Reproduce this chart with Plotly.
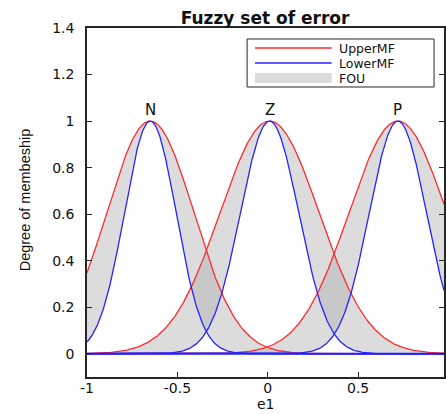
import numpy as np
import plotly.graph_objects as go

# Interval type-2 Gaussian membership functions for the error input e1
labels = ["N", "Z", "P"]
centers = [-0.65, 0.01, 0.72]
upper_sigma = [0.241, 0.274, 0.271]
lower_sigma = [0.143, 0.161, 0.158]

x_min, x_max = -1.0, 0.975
y_ticks = [0, 0.2, 0.4, 0.6, 0.8, 1, 1.2, 1.4]
x_ticks = [-1, -0.5, 0, 0.5]

x = np.linspace(x_min, x_max, 600)


def gauss(xv, c, s):
    return np.exp(-((xv - c) ** 2) / (2 * s ** 2))


RED = "#ff2a2a"
BLUE = "#2323ff"
FOU_FILL = "rgba(173,173,173,0.43)"
AXIS = "#262626"
TXT = "#111"

fig = go.Figure()

# footprint of uncertainty (overlapping regions darken)
for c, su, sl in zip(centers, upper_sigma, lower_sigma):
    up = gauss(x, c, su)
    lo = gauss(x, c, sl)
    fig.add_trace(go.Scatter(
        x=np.concatenate([x, x[::-1]]),
        y=np.concatenate([up, lo[::-1]]),
        fill="toself", fillcolor=FOU_FILL, line=dict(width=0),
        mode="lines", hoverinfo="skip", showlegend=False))

for c, su in zip(centers, upper_sigma):
    fig.add_trace(go.Scatter(x=x, y=gauss(x, c, su), mode="lines",
                             line=dict(color=RED, width=1.3), showlegend=False))
for c, sl in zip(centers, lower_sigma):
    fig.add_trace(go.Scatter(x=x, y=gauss(x, c, sl), mode="lines",
                             line=dict(color=BLUE, width=1.3), showlegend=False))

# baseline of the lower membership functions
fig.add_trace(go.Scatter(x=x, y=np.zeros_like(x), mode="lines",
                         line=dict(color=BLUE, width=2), showlegend=False))

# set names above each peak
for name, c in zip(labels, centers):
    fig.add_annotation(x=c, y=1.0, text=name, showarrow=False,
                       yanchor="bottom", yshift=0,
                       font=dict(family="DejaVu Sans", size=15, color=TXT))

# legend box drawn in pixel-aligned paper coordinates
W, H = 446, 414
ml, mr, mt, mb = 87, 0, 28, 37
pw, ph = W - ml - mr, H - mt - mb


def px(xp):
    return (xp - ml) / pw


def py(yp):
    return 1 - (yp - mt) / ph


fig.add_shape(type="rect", xref="paper", yref="paper",
              x0=px(248), x1=px(436), y0=py(87), y1=py(39),
              line=dict(color=AXIS, width=1), fillcolor="white", layer="above")
fig.add_shape(type="line", xref="paper", yref="paper",
              x0=px(256), x1=px(333), y0=py(48), y1=py(48),
              line=dict(color=RED, width=1.3), layer="above")
fig.add_shape(type="line", xref="paper", yref="paper",
              x0=px(256), x1=px(333), y0=py(63), y1=py(63),
              line=dict(color=BLUE, width=1.3), layer="above")
fig.add_shape(type="rect", xref="paper", yref="paper",
              x0=px(256), x1=px(333), y0=py(83), y1=py(73),
              line=dict(width=0), fillcolor="#dcdcdc", layer="above")
for txt, yy in [("UpperMF", 48.5), ("LowerMF", 63.5), ("FOU", 78.5)]:
    fig.add_annotation(xref="paper", yref="paper", x=px(339), y=py(yy),
                       text=txt, showarrow=False, xanchor="left", yanchor="middle",
                       borderpad=0,
                       font=dict(family="DejaVu Sans", size=12.5, color=TXT))

# y axis title
fig.add_annotation(xref="paper", yref="paper", x=px(25), y=py(200),
                   text="Degree of membeship", textangle=-90, showarrow=False,
                   xanchor="center", yanchor="middle",
                   font=dict(family="Liberation Sans", size=14.5, color=TXT))
# x axis title
fig.add_annotation(xref="paper", yref="paper", x=px(267), y=py(413.5),
                   text="e1", showarrow=False, xanchor="center", yanchor="bottom",
                   borderpad=0,
                   font=dict(family="DejaVu Sans", size=14, color=TXT))

fig.update_layout(
    width=W, height=H,
    margin=dict(l=ml, r=mr, t=mt, b=mb),
    paper_bgcolor="white", plot_bgcolor="white",
    showlegend=False,
    title=dict(text="<b>Fuzzy set of error</b>", x=px(266), xref="paper",
               xanchor="center", y=1 - 18 / H, yanchor="middle", yref="container",
               font=dict(family="DejaVu Sans", size=17, color=TXT)),
)
fig.update_xaxes(range=[x_min, x_max], tickvals=x_ticks,
                 ticktext=[f"{v:g}" for v in x_ticks],
                 ticks="inside", ticklen=5, tickcolor=AXIS, tickwidth=1,
                 showline=True, linecolor=AXIS, linewidth=1.5, mirror=True,
                 showgrid=False, zeroline=False, ticklabelstandoff=-3,
                 tickfont=dict(family="DejaVu Sans", size=14, color=TXT))
fig.update_yaxes(range=[-0.1, 1.4], tickvals=y_ticks,
                 ticktext=[f"{v:g}" for v in y_ticks],
                 ticks="inside", ticklen=5, tickcolor=AXIS, tickwidth=1,
                 showline=True, linecolor=AXIS, linewidth=1.5, mirror="ticks",
                 showgrid=False, zeroline=False, ticklabelstandoff=8,
                 tickfont=dict(family="DejaVu Sans", size=14, color=TXT))

fig.write_html("out.html")
